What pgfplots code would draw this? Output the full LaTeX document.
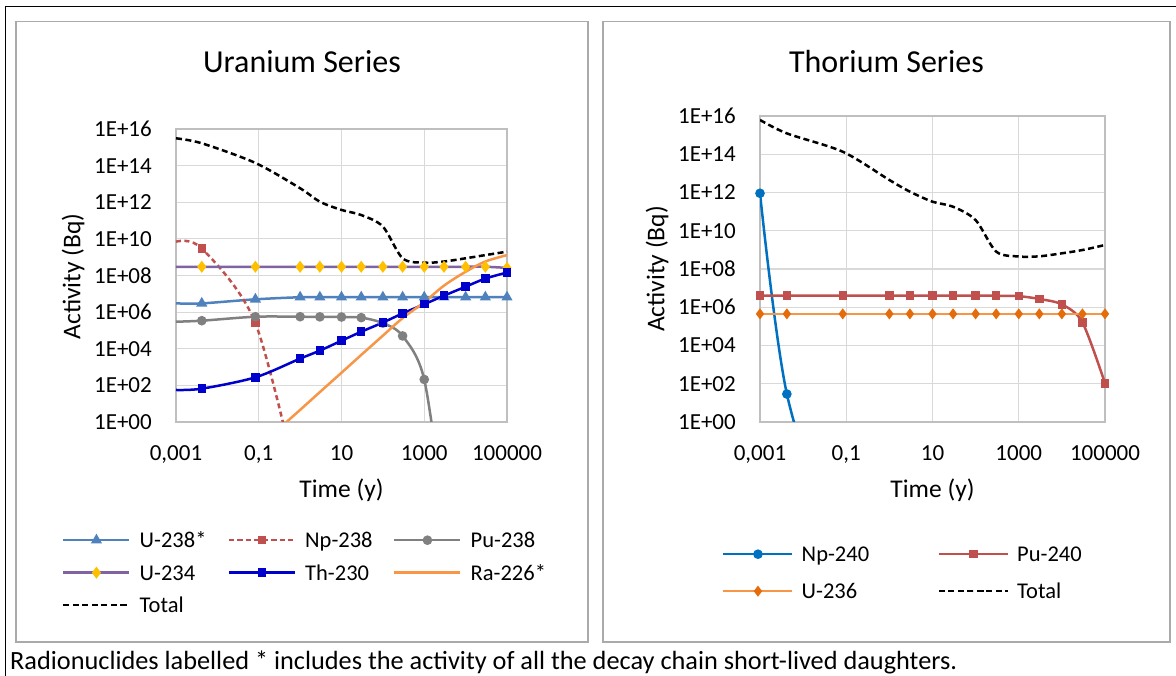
\documentclass[border=0pt]{standalone}
\usepackage{fontspec}
\setmainfont{Carlito}
\usepackage{pgfplots}
\pgfplotsset{compat=1.18}
\definecolor{cUa}{HTML}{4F81BD}
\definecolor{cNp}{HTML}{C0504D}
\definecolor{cPu}{HTML}{808080}
\definecolor{cUb}{HTML}{8064A2}
\definecolor{cUbm}{HTML}{FFC000}
\definecolor{cTh}{HTML}{0000CC}
\definecolor{cRa}{HTML}{F79646}
\definecolor{cNpb}{HTML}{0070C0}
\definecolor{cUcm}{HTML}{E46C0A}
\definecolor{gridgray}{HTML}{D9D9D9}
\definecolor{axgray}{HTML}{BFBFBF}
\definecolor{boxgray}{HTML}{AAAAAA}
\newcommand{\fs}[1]{\fontsize{#1}{#1}\selectfont}
\begin{document}
\begin{tikzpicture}[x=1pt,y=1pt]
\useasboundingbox (0,0) rectangle (1176,676);
\draw[black, line width=1.3pt] (5.7,-5) -- (5.7,669.3) -- (1180,669.3);
\draw[boxgray, line width=1.5pt] (16,34) rectangle (588,654.3);
\draw[boxgray, line width=1.5pt] (603,34) rectangle (1170,654.3);
\node[font=\fs{32}] at (302,614) {Uranium Series};
\node[font=\fs{32}] at (886.5,614) {Thorium Series};
\node[font=\fs{25.5}, rotate=90] at (73,399.5) {Activity (Bq)};
\node[font=\fs{25.5}, rotate=90] at (657,407) {Activity (Bq)};
\node[font=\fs{25.5}] at (341.5,186) {Time (y)};
\node[font=\fs{25.5}] at (932.5,186) {Time (y)};
\node[font=\fs{26.3}, anchor=base west, inner sep=0pt] at (10,6.5) {Radionuclides labelled * includes the activity of all the decay chain short-lived daughters.};

\begin{axis}[at={(176pt,254pt)}, anchor=south west, width=331pt, height=293pt,
    scale only axis, xmode=log, ymode=log,
    xmin=0.001, xmax=100000, ymin=1, ymax=1e16,
    xtick={0.001,0.1,10,1000,100000},
    xticklabels={{0,001},{0,1},10,1000,100000},
    ytick={1,1e2,1e4,1e6,1e8,1e10,1e12,1e14,1e16},
    yticklabels={1E+00,1E+02,1E+04,1E+06,1E+08,1E+10,1E+12,1E+14,1E+16},
    xminorticks=false, yminorticks=false,
    major tick length=0pt,
    grid=major, major grid style={draw=gridgray, line width=1.2pt},
    axis line style={draw=axgray, line width=1.2pt},
    tick label style={font=\fs{23}},
    xticklabel style={anchor=base, yshift=-38.3pt, inner sep=0pt},
    yticklabel style={anchor=east, xshift=-24pt, inner sep=0pt},
  legend columns=3,
  legend image code/.code={\draw[#1, mark repeat=2, mark phase=2] plot coordinates {(0pt,0pt) (33pt,0pt) (66pt,0pt)};},
  legend style={at={(-0.3444,-0.3473)}, anchor=north west, draw=none, fill=none, inner sep=0pt,
    font=\fs{22.5}, row sep=0pt,
    nodes={inner sep=0pt, text height=23.75pt, text depth=8.75pt, anchor=west},
    /tikz/every odd column/.style={column sep=9pt},
    /tikz/every even column/.style={column sep=8pt}},
]
\addplot[smooth, line width=2.5pt, cUa, mark=triangle*, mark size=4pt, mark phase=2, mark options={fill=cUa, draw=cUa}] coordinates {
 (0.001,3.0e6) (0.0042,3.0e6) (0.083,5.0e6) (1,6.5e6) (3,6.5e6) (10,6.5e6) (30,6.5e6)
 (100,6.5e6) (300,6.5e6) (1000,6.5e6) (3000,6.5e6) (10000,6.5e6) (30000,6.5e6) (100000,6.5e6)};
\addlegendentry{\makebox[80pt][l]{U-238*}}
\addplot[smooth, line width=2.5pt, cNp, dash pattern=on 5pt off 3.5pt, mark=square*, mark size=3pt, mark phase=2, mark options={solid, fill=cNp}] coordinates {
 (0.001,7e9) (0.0042,3e9) (0.083,2.5e5) (1,1e-4)};
\addlegendentry{\makebox[80pt][l]{Np-238}}
\addplot[smooth, line width=2.5pt, cPu, mark=*, mark size=3.5pt, mark phase=2, mark options={fill=cPu}] coordinates {
 (0.001,3.0e5) (0.0042,3.4e5) (0.083,5.6e5) (1,5.6e5) (3,5.5e5) (10,5.4e5) (30,5.0e5)
 (100,2.5e5) (300,5.0e4) (1000,2.1e2) (3000,1e-5)};
\addlegendentry{\makebox[80pt][l]{Pu-238}}
\addplot[smooth, line width=2.5pt, cUb, mark=diamond*, mark size=4pt, mark phase=2, mark options={fill=cUbm, draw=cUbm}] coordinates {
 (0.001,3.0e8) (0.0042,3.0e8) (0.083,3.0e8) (1,3.0e8) (3,3.0e8) (10,3.0e8) (30,3.0e8)
 (100,3.0e8) (300,3.0e8) (1000,3.0e8) (3000,3.0e8) (10000,3.0e8) (30000,3.0e8) (100000,2.6e8)};
\addlegendentry{\makebox[80pt][l]{U-234}}
\addplot[smooth, line width=2.5pt, cTh, mark=square*, mark size=3pt, mark phase=2, mark options={fill=cTh}] coordinates {
 (0.001,56) (0.0042,66) (0.083,275) (1,2.9e3) (3,7.9e3) (10,2.75e4) (30,8.5e4)
 (100,2.7e5) (300,8.5e5) (1000,2.7e6) (3000,7.9e6) (10000,2.45e7) (30000,6.8e7) (100000,1.45e8)};
\addlegendentry{\makebox[80pt][l]{Th-230}}
\addplot[smooth, line width=2.5pt, cRa] coordinates {
 (0.001,4e-6) (0.0042,6e-5) (0.083,0.03) (1,4.6) (3,43) (10,490) (30,4.6e3)
 (100,5.2e4) (300,4.7e5) (1000,3.5e6) (3000,2.8e7) (10000,1.6e8) (30000,5.8e8) (100000,1.3e9)};
\addlegendentry{\makebox[80pt][l]{Ra-226*}}
\addplot[smooth, line width=2.5pt, black, dash pattern=on 6pt off 3.5pt] coordinates {
 (0.001,3.1e15) (0.0042,1.66e15) (0.083,1.4e14) (1,5.8e12) (3,1.07e12) (10,3.8e11) (30,2.0e11)
 (100,4.7e10) (300,8.7e8) (1000,5.0e8) (3000,5.8e8) (10000,8.7e8) (30000,1.3e9) (100000,2.0e9)};
\addlegendentry{\makebox[80pt][l]{Total}}
\end{axis}

\begin{axis}[at={(760pt,254pt)}, anchor=south west, width=345pt, height=306pt,
    scale only axis, xmode=log, ymode=log,
    xmin=0.001, xmax=100000, ymin=1, ymax=1e16,
    xtick={0.001,0.1,10,1000,100000},
    xticklabels={{0,001},{0,1},10,1000,100000},
    ytick={1,1e2,1e4,1e6,1e8,1e10,1e12,1e14,1e16},
    yticklabels={1E+00,1E+02,1E+04,1E+06,1E+08,1E+10,1E+12,1E+14,1E+16},
    xminorticks=false, yminorticks=false,
    major tick length=0pt,
    grid=major, major grid style={draw=gridgray, line width=1.2pt},
    axis line style={draw=axgray, line width=1.2pt},
    tick label style={font=\fs{23}},
    xticklabel style={anchor=base, yshift=-38.3pt, inner sep=0pt},
    yticklabel style={anchor=east, xshift=-24pt, inner sep=0pt},
  legend columns=2,
  legend image code/.code={\draw[#1, mark repeat=2, mark phase=2] plot coordinates {(0pt,0pt) (34.5pt,0pt) (69pt,0pt)};},
  legend style={at={(-0.1101,-0.3709)}, anchor=north west, draw=none, fill=none, inner sep=0pt,
    font=\fs{22.5}, row sep=0pt,
    nodes={inner sep=0pt, text height=26pt, text depth=11pt, anchor=west},
    /tikz/every odd column/.style={column sep=8pt},
    /tikz/every even column/.style={column sep=8pt}},
]
\addplot[smooth, line width=2.5pt, cNpb, mark=*, mark size=3.5pt, mark options={fill=cNpb}] coordinates {
 (0.001,9.1e11) (0.0042,29) (0.083,1e-8)};
\addlegendentry{\makebox[128pt][l]{Np-240}}
\addplot[smooth, line width=2.5pt, cNp, mark=square*, mark size=3pt, mark options={fill=cNp}] coordinates {
 (0.001,4.1e6) (0.0042,4.1e6) (0.083,4.1e6) (1,4.1e6) (3,4.1e6) (10,4.1e6) (30,4.1e6)
 (100,4.1e6) (300,4.0e6) (1000,3.8e6) (3000,2.7e6) (10000,1.4e6) (30000,1.6e5) (100000,105)};
\addlegendentry{\makebox[128pt][l]{Pu-240}}
\addplot[smooth, line width=2.5pt, cRa, mark=diamond*, mark size=3.5pt, mark options={fill=cUcm, draw=cUcm}] coordinates {
 (0.001,4.5e5) (0.0042,4.5e5) (0.083,4.5e5) (1,4.5e5) (3,4.5e5) (10,4.5e5) (30,4.5e5)
 (100,4.5e5) (300,4.5e5) (1000,4.5e5) (3000,4.5e5) (10000,4.5e5) (30000,4.5e5) (100000,4.5e5)};
\addlegendentry{\makebox[128pt][l]{U-236}}
\addplot[smooth, line width=2.5pt, black, dash pattern=on 6pt off 3.5pt] coordinates {
 (0.001,6.2e15) (0.0042,1.23e15) (0.083,1.35e14) (1,4.5e12) (3,1.1e12) (10,3.3e11) (30,1.8e11)
 (100,3.6e10) (300,8.1e8) (1000,4.5e8) (3000,4.6e8) (10000,6.6e8) (30000,9.8e8) (100000,1.8e9)};
\addlegendentry{\makebox[128pt][l]{Total}}
\end{axis}
\end{tikzpicture}
\end{document}
